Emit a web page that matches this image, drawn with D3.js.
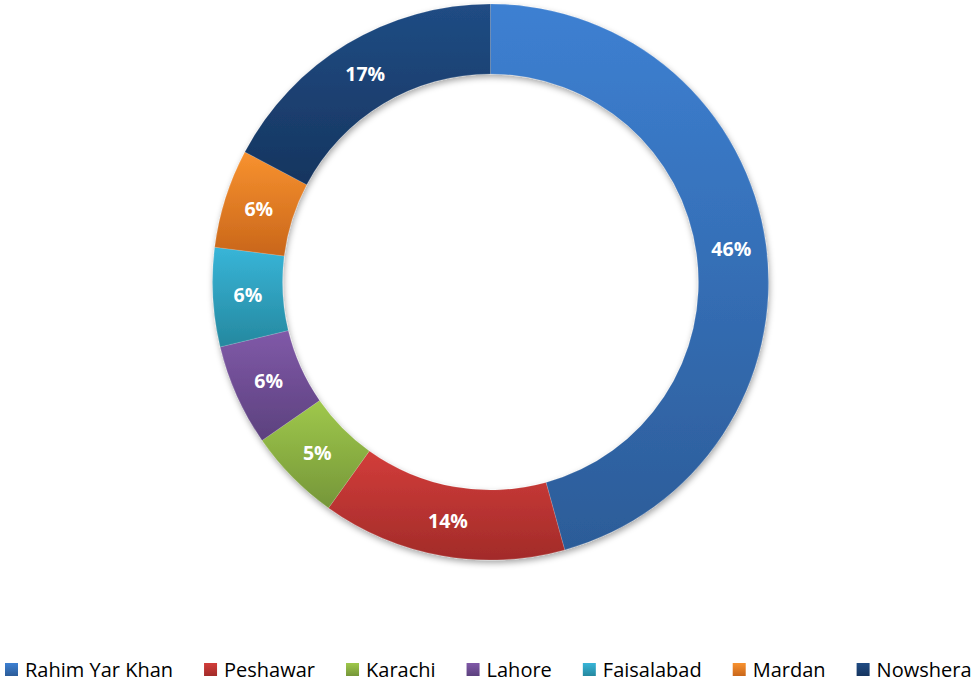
<!DOCTYPE html>
<html>
<head>
<meta charset="utf-8" />
<title>Donut</title>
<style>
    body { margin: 0; background: #fff; }
    svg { display: block; font-family: "Open Sans", sans-serif; }
</style>
</head>
<body>
<div id="container"></div>
<script src="https://cdn.jsdelivr.net/npm/d3@7"></script>
<script>
    // data
    const cities = ['Rahim Yar Khan', 'Peshawar', 'Karachi', 'Lahore', 'Faisalabad', 'Mardan', 'Nowshera']
    const shares = [45.7, 14.2, 5.45, 5.9, 5.75, 5.75, 17.25]
    const topColors = ['#3d80d2', '#d23d3a', '#9fc84b', '#8059a8', '#38b5d8', '#f8922f', '#204c84']
    const bottomColors = ['#2c5c98', '#a22b29', '#759639', '#5c417e', '#25889f', '#c9661a', '#16355f']

    const width = 979, height = 684
    const cx = 490.5, cy = 282
    const outerR = 278, innerR = 208

    const svg = d3.select('#container').append('svg').attr('width', width).attr('height', height)
    const defs = svg.append('defs')

    const shadow = defs.append('filter').attr('id', 'shadow')
        .attr('x', '-10%').attr('y', '-10%').attr('width', '120%').attr('height', '120%')
    shadow.append('feDropShadow').attr('dx', 1).attr('dy', 3).attr('stdDeviation', 3)
        .attr('flood-color', '#000').attr('flood-opacity', 0.35)

    cities.forEach((c, i) => {
        const g = defs.append('linearGradient').attr('id', 'grad' + i)
            .attr('x1', 0).attr('y1', 0).attr('x2', 0).attr('y2', 1)
        g.append('stop').attr('offset', '0%').attr('stop-color', topColors[i])
        g.append('stop').attr('offset', '100%').attr('stop-color', bottomColors[i])
    })

    const pie = d3.pie().sort(null).value(d => d)
    const arc = d3.arc().innerRadius(innerR).outerRadius(outerR)
    const labelArc = d3.arc().innerRadius((innerR + outerR) / 2).outerRadius((innerR + outerR) / 2)
    const total = d3.sum(shares)
    const fmt = d3.format('.0%')

    const arcs = pie(shares)
    const chart = svg.append('g').attr('transform', `translate(${cx},${cy})`)

    chart.append('g').attr('filter', 'url(#shadow)')
        .selectAll('path').data(arcs).enter().append('path')
        .attr('d', arc)
        .attr('fill', (d, i) => `url(#grad${i})`)
        .attr('stroke', 'rgba(255,255,255,0.25)')
        .attr('stroke-width', 0.6)

    chart.selectAll('text.lbl').data(arcs).enter().append('text')
        .attr('class', 'lbl')
        .attr('transform', d => `translate(${labelArc.centroid(d)})`)
        .attr('text-anchor', 'middle')
        .attr('dy', '0.36em')
        .attr('fill', '#fff')
        .style('font-weight', 700)
        .style('font-size', '19.5px')
        .text(d => fmt(d.data / total))

    // legend
    const legend = svg.append('g').attr('transform', 'translate(0,677)')
    const items = legend.selectAll('g').data(cities).enter().append('g')
    items.append('rect').attr('width', 13).attr('height', 13).attr('y', -14)
        .attr('fill', (d, i) => `url(#grad${i})`)
    items.append('text').attr('x', 20).attr('y', 0)
        .style('font-size', '20px').attr('fill', '#000')
        .text(d => d)

    let x = 5
    items.each(function () {
        const node = d3.select(this)
        node.attr('transform', `translate(${x},0)`)
        x += 20 + node.select('text').node().getComputedTextLength() + 31
    })
</script>
</body>
</html>
